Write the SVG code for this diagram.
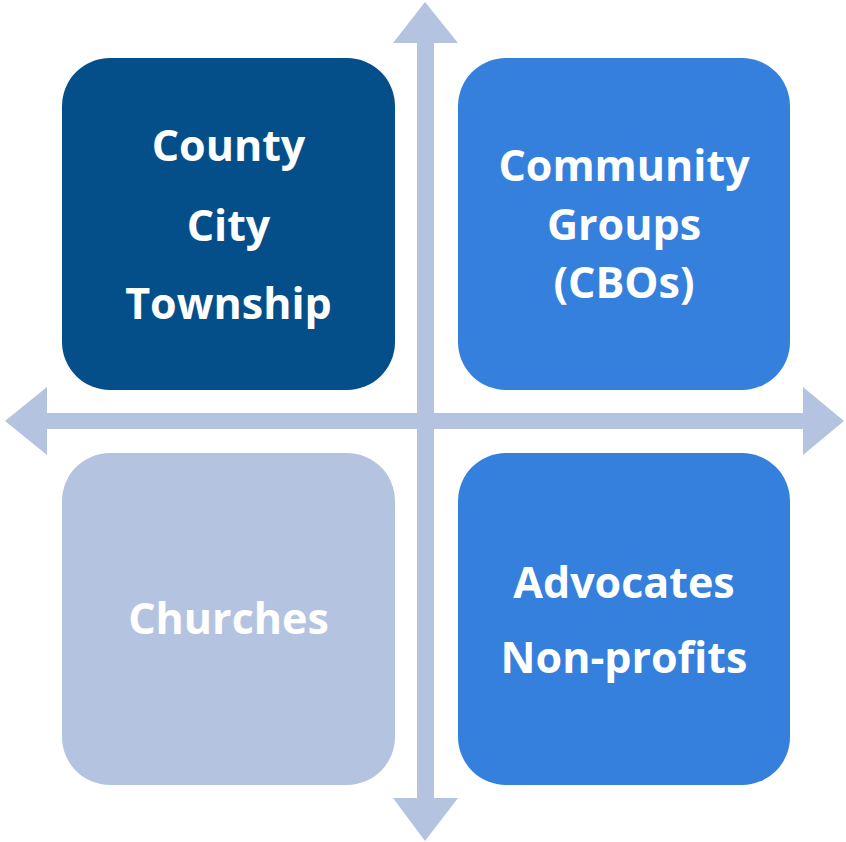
<svg xmlns="http://www.w3.org/2000/svg" width="846" height="842" viewBox="0 0 846 842">
<style>
.ax{fill:#B4C4E0}
.lbl{font-family:"Open Sans","Liberation Sans",sans-serif;font-weight:700;font-size:43px;fill:#FFFFFF;text-anchor:middle}
</style>
<rect width="846" height="842" fill="#FFFFFF"/>
<g id="connectors">
<polygon class="ax" points="425,2 458,43 434,43 434,798 458,798 425,841 393,798 417,798 417,43 393,43"/>
<polygon class="ax" points="5,421 47,387 47,413 803,413 803,387 844,421 803,455 803,429 47,429 47,455"/>
</g>
<g id="government">
<rect x="62" y="58" width="333" height="332" rx="48" fill="#044F8A"/>
<text class="lbl" x="228.5" y="161">County</text>
<text class="lbl" x="228.5" y="241">City</text>
<text class="lbl" x="228.5" y="319">Township</text>
</g>
<g id="community">
<rect x="458" y="58" width="332" height="332" rx="48" fill="#3580DC"/>
<text class="lbl" x="624" y="181">Community</text>
<text class="lbl" x="624" y="240">Groups</text>
<text class="lbl" x="624" y="298">(CBOs)</text>
</g>
<g id="churches">
<rect x="62" y="453" width="333" height="332" rx="48" fill="#B4C4E0"/>
<text class="lbl" x="228.5" y="634">Churches</text>
</g>
<g id="advocates">
<rect x="458" y="453" width="332" height="332" rx="48" fill="#3580DC"/>
<text class="lbl" x="624" y="598">Advocates</text>
<text class="lbl" x="624" y="673">Non-profits</text>
</g>
</svg>
